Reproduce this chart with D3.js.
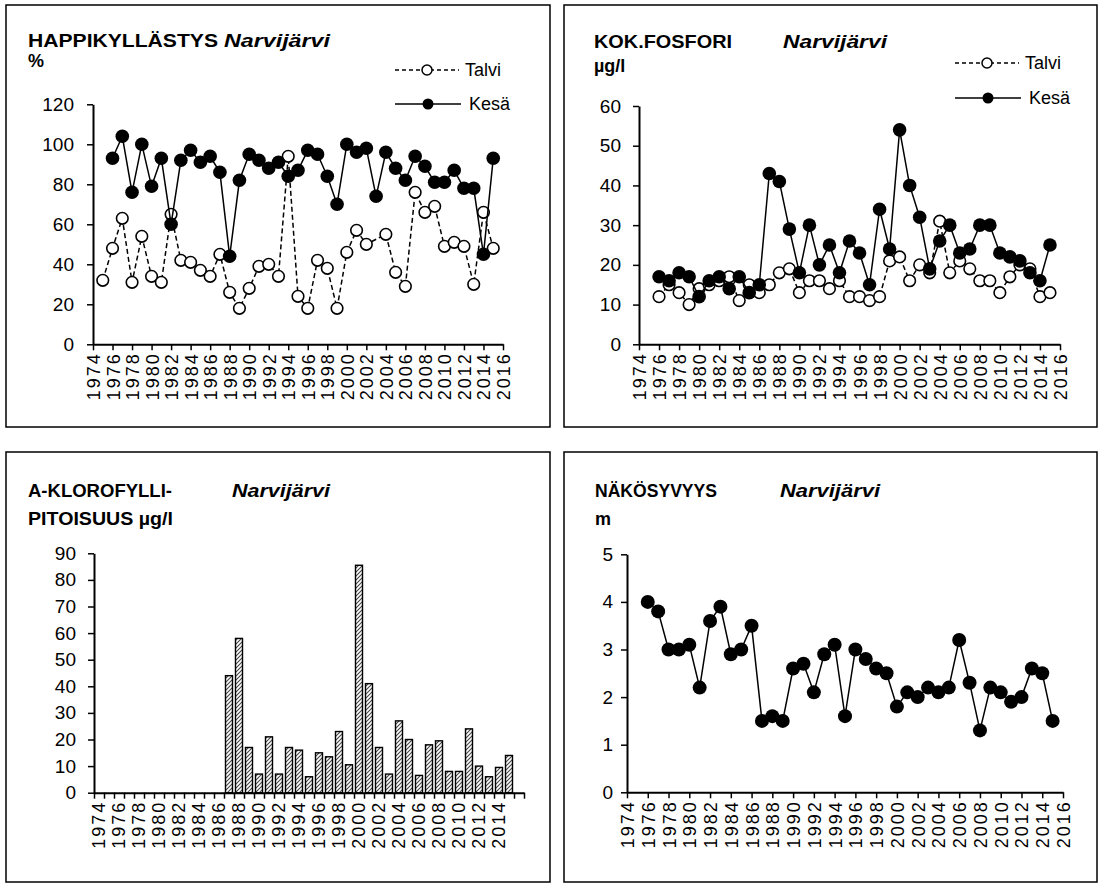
<!DOCTYPE html>
<html>
<head>
<meta charset="utf-8">
<script src="https://cdn.jsdelivr.net/npm/d3@7"></script>
<style>
body{margin:0;background:#fff}
svg text{font-family:"Liberation Sans",Arial,sans-serif;fill:#000}
.axis .tick text{font-size:19px}
.xaxis .tick text{font-size:18px;letter-spacing:2px}
.title{font-size:18px;font-weight:bold}
.lake{font-size:18px;font-weight:bold;font-style:italic}
.legend{font-size:18px}
</style>
</head>
<body>
<svg id="chart" width="1098" height="883"></svg>
<script>
// years for the line series (Talvi starts 1975, Kesä 1976)
const lineYears = [1975,1976,1977,1978,1979,1980,1981,1982,1983,1984,1985,1986,1987,1988,1989,1990,
  1991,1992,1993,1994,1995,1996,1997,1998,1999,2000,2001,2002,2003,2004,2005,2006,2007,2008,2009,
  2010,2011,2012,2013,2014,2015]

// HAPPIKYLLÄSTYS %
const happiTalvi = [32,48,63,31,54,34,31,65,42,41,37,34,45,26,18,28,39,40,34,94,24,18,42,38,18,46,57,50,null,55,36,29,76,66,69,49,51,49,30,66,48]
const happiKesa  = [null,93,104,76,100,79,93,60,92,97,91,94,86,44,82,95,92,88,91,84,87,97,95,84,70,100,96,98,74,96,88,82,94,89,81,81,87,78,78,45,93]

// KOK.FOSFORI µg/l
const fosTalvi = [null,12,15,13,10,14,15,16,17,11,15,13,15,18,19,13,16,16,14,16,12,12,11,12,21,22,16,20,18,31,18,21,19,16,16,13,17,20,19,12,13]
const fosKesa  = [null,17,16,18,17,12,16,17,14,17,13,15,43,41,29,18,30,20,25,18,26,23,15,34,24,54,40,32,19,26,30,23,24,30,30,23,22,21,18,16,25]

// A-KLOROFYLLI µg/l (category axis 1974-2016)
const chlCategories = [1974,1975,1976,1977,1978,1979,1980,1981,1982,1983,1984,1985,1986,1987,1988,1989,
  1990,1991,1992,1993,1994,1995,1996,1997,1998,1999,2000,2001,2002,2003,2004,2005,2006,2007,2008,
  2009,2010,2011,2012,2013,2014,2015,2016]
const chlYears  = [1987,1988,1989,1990,1991,1992,1993,1994,1995,1996,1997,1998,1999,2000,2001,2002,
  2003,2004,2005,2006,2007,2008,2009,2010,2011,2012,2013,2014,2015]
const chlValues = [44,58,17,7,21,7,17,16,6,15,13.5,23,10.5,85.5,41,17,7,27,20,6.5,18,19.5,8,8,24,10,6,9.5,14]
const chlLabels = [1974,1976,1978,1980,1982,1984,1986,1988,1990,1992,1994,1996,1998,2000,2002,2004,2006,2008,2010,2012,2014]

// NÄKÖSYVYYS m
const secchiYears  = lineYears.slice(1)
const secchiValues = [4.0,3.8,3.0,3.0,3.1,2.2,3.6,3.9,2.9,3.0,3.5,1.5,1.6,1.5,2.6,2.7,2.1,2.9,3.1,1.6,3.0,2.8,2.6,2.5,1.8,2.1,2.0,2.2,2.1,2.2,3.2,2.3,1.3,2.2,2.1,1.9,2.0,2.6,2.5,1.5]

const xTickYears = [1974,1976,1978,1980,1982,1984,1986,1988,1990,1992,1994,1996,1998,2000,2002,2004,2006,2008,2010,2012,2014,2016]

const svg = d3.select("#chart")

// hatch for the bars
svg.append("defs").append("pattern")
    .attr("id","hatch").attr("patternUnits","userSpaceOnUse")
    .attr("width",4).attr("height",4)
    .call(p => {
        p.append("rect").attr("width",4).attr("height",4).attr("fill","#fff")
        p.append("path").attr("d","M-1,1 l2,-2 M0,4 l4,-4 M3,5 l2,-2")
            .attr("stroke","#444").attr("stroke-width",1.1)
    })

// panel frames
const frames = [[6,5,544,422],[564,5,533,422],[6,452,544,430],[564,452,533,430]]
frames.forEach(f => {
    svg.append("rect").attr("x",f[0]).attr("y",f[1]).attr("width",f[2]).attr("height",f[3])
        .attr("fill","none").attr("stroke","#000").attr("stroke-width",1.5)
})

function styleAxis(g){
    g.select(".domain").attr("stroke","#000").attr("stroke-width",2)
    g.selectAll(".tick line").attr("stroke","#000").attr("stroke-width",1.5)
}

function rotateLabels(g){
    g.selectAll(".tick text")
        .attr("transform","rotate(-90)")
        .attr("text-anchor","end")
        .attr("x",-8).attr("y",0).attr("dy","0.36em")
}

function header(p){
    svg.append("text").attr("class","title").attr("x",p.tx).attr("y",p.ty)
        .attr("textLength",p.tw).attr("lengthAdjust","spacingAndGlyphs").text(p.title)
    svg.append("text").attr("class","title").attr("x",p.tx).attr("y",p.ty+p.lineGap)
        .attr("textLength",p.tw2 || null).attr("lengthAdjust","spacingAndGlyphs").text(p.unit)
    svg.append("text").attr("class","lake").attr("x",p.lx).attr("y",p.ty)
        .attr("textLength",p.lw).attr("lengthAdjust","spacingAndGlyphs").text("Narvijärvi")
}

function legend(lx, ly1, ly2){
    let g = svg.append("g")
    g.append("line").attr("x1",lx).attr("x2",lx+64).attr("y1",ly1).attr("y2",ly1)
        .attr("stroke","#000").attr("stroke-width",1.3).attr("stroke-dasharray","4,3")
    g.append("circle").attr("cx",lx+32).attr("cy",ly1).attr("r",5)
        .attr("fill","#fff").attr("stroke","#000").attr("stroke-width",1.5)
    g.append("text").attr("class","legend").attr("x",lx+70).attr("y",ly1+6).text("Talvi")
    g.append("line").attr("x1",lx).attr("x2",lx+66).attr("y1",ly2).attr("y2",ly2)
        .attr("stroke","#000").attr("stroke-width",1.5)
    g.append("circle").attr("cx",lx+33).attr("cy",ly2).attr("r",5.5).attr("fill","#000")
    g.append("text").attr("class","legend").attr("x",lx+74).attr("y",ly2+6).text("Kesä")
}

function linePanel(p){
    let x = d3.scaleLinear().domain([1974,2016]).range([p.x0,p.x1])
    let y = d3.scaleLinear().domain([0,p.yMax]).range([p.yBot,p.yTop])

    svg.append("g").attr("class","axis").attr("transform",`translate(${p.x0},0)`)
        .call(d3.axisLeft(y).tickValues(p.yTicks).tickSize(6).tickSizeOuter(0).tickPadding(p.pad).tickFormat(d3.format("d")))
        .call(styleAxis)
    svg.append("g").attr("class","axis xaxis").attr("transform",`translate(0,${p.yBot})`)
        .call(d3.axisBottom(x).tickValues(xTickYears).tickSize(6).tickSizeOuter(0).tickFormat(d3.format("d")))
        .call(styleAxis).call(rotateLabels)

    p.series.forEach(s => {
        let data = s.years.map((yr,i) => ({yr:yr, v:s.values[i]})).filter(d => d.v != null)
        svg.append("path").datum(data)
            .attr("fill","none").attr("stroke","#000").attr("stroke-width",1.5)
            .attr("stroke-dasharray",s.dashed ? "5,3" : null)
            .attr("d",d3.line().x(d => x(d.yr)).y(d => y(d.v)))
        svg.append("g").selectAll("circle").data(data).enter().append("circle")
            .attr("cx",d => x(d.yr)).attr("cy",d => y(d.v))
            .attr("r",s.filled ? p.r : p.r - 1)
            .attr("fill",s.filled ? "#000" : "#fff")
            .attr("stroke","#000").attr("stroke-width",s.filled ? 0 : 1.6)
    })
}

// HAPPIKYLLÄSTYS
header({title:"HAPPIKYLLÄSTYS",unit:"%",tx:28,ty:47,tw:190,lineGap:20,lx:224,lw:106})
legend(395,70,104)
linePanel({x0:93,x1:503,yTop:104.3,yBot:344.3,yMax:120,yTicks:[0,20,40,60,80,100,120],pad:13,r:6.8,
    series:[{years:lineYears,values:happiTalvi,filled:false,dashed:true},
            {years:lineYears,values:happiKesa,filled:true,dashed:false}]})

// KOK.FOSFORI
header({title:"KOK.FOSFORI",unit:"µg/l",tx:594,ty:48,tw:138,lineGap:24,lx:783,lw:104})
legend(955,63,98)
linePanel({x0:639,x1:1060,yTop:106,yBot:344.3,yMax:60,yTicks:[0,10,20,30,40,50,60],pad:12,r:6.8,
    series:[{years:lineYears,values:fosTalvi,filled:false,dashed:true},
            {years:lineYears,values:fosKesa,filled:true,dashed:false}]})

// A-KLOROFYLLIPITOISUUS (bars)
header({title:"A-KLOROFYLLI-",unit:"PITOISUUS µg/l",tx:28,ty:497,tw:144,tw2:145,lineGap:28,lx:232,lw:98})
{
    let x = d3.scaleBand().domain(chlCategories).range([94,524]).paddingInner(0.3).paddingOuter(0.15)
    let xEdge = d3.scaleLinear().domain([1974,2017]).range([94,524])
    let y = d3.scaleLinear().domain([0,90]).range([792.7,553.3])

    svg.append("g").selectAll("rect").data(chlYears).enter().append("rect")
        .attr("x",d => x(d)).attr("width",x.bandwidth())
        .attr("y",(d,i) => y(chlValues[i])).attr("height",(d,i) => y(0) - y(chlValues[i]))
        .attr("fill","url(#hatch)").attr("stroke","#000").attr("stroke-width",1.4)

    svg.append("g").attr("class","axis").attr("transform","translate(94,0)")
        .call(d3.axisLeft(y).tickValues([0,10,20,30,40,50,60,70,80,90]).tickSize(6).tickSizeOuter(0).tickPadding(12))
        .call(styleAxis)
    svg.append("g").attr("class","axis").attr("transform","translate(0,792.7)")
        .call(d3.axisBottom(xEdge).tickValues(chlCategories.concat([2017])).tickSize(6).tickSizeOuter(0).tickFormat(""))
        .call(styleAxis)
    svg.append("g").attr("class","axis xaxis").attr("transform","translate(0,792.7)")
        .call(d3.axisBottom(x).tickValues(chlLabels).tickSize(0))
        .call(g => g.select(".domain").remove())
        .call(rotateLabels)
}

// NÄKÖSYVYYS
header({title:"NÄKÖSYVYYS",unit:"m",tx:595,ty:497,tw:122,lineGap:28,lx:780,lw:100})
linePanel({x0:627,x1:1063,yTop:554.3,yBot:792.3,yMax:5,yTicks:[0,1,2,3,4,5],pad:8,r:7,
    series:[{years:secchiYears,values:secchiValues,filled:true,dashed:false}]})
</script>
</body>
</html>
